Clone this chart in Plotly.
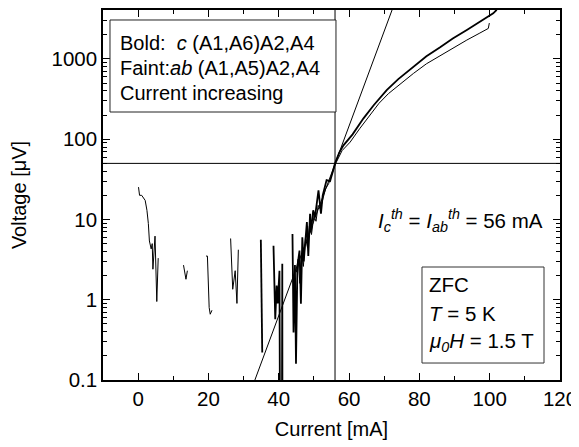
import plotly.graph_objects as go

# bold curve: c-axis (A1,A6)A2,A4
bold_current = [34.9, 35.3, None,
                38.5, 39.0, 39.4, 39.7, 40.2, 40.35, 40.9, 41.0, 41.05, None,
                43.9, 44.2, 44.6, 44.9, 45.3, 45.9, 46.3, 46.7, 47.1, 47.5, 48.0, 48.4,
                48.9, 49.1, 49.8, 50.3, 51.3, 52.0, 52.5, 53.6, 54.6, 55.4, 56.0,
                57.2, 58.4, 61.0, 64.1, 67.0, 70.7, 74.0, 78.3, 82.0, 85.9, 89.5,
                93.5, 97.0, 101.0, 102.0]
bold_voltage = [5.6, 0.22, None,
                4.7, 0.57, 1.5, 0.9, 2.3, 0.02, 0.02, 2.8, 0.02, None,
                6.6, 0.39, 2.7, 0.16, 2.6, 4.1, 0.89, 6.0, 3.0, 4.5, 9.3, 3.5,
                11.8, 6.9, 13, 10.7, 23, 11.8, 20, 31, 30, 40, 50,
                68, 84, 115, 182, 265, 410, 560, 800, 1080, 1400, 1800,
                2300, 2900, 3700, 4100]

# faint curve: ab-plane (A1,A5)A2,A4
faint_current = [0.1, 0.4, 1.0, 2.0, 2.5, 2.9, 3.2, 3.7, 4.0, 4.2, 4.8, 5.3, 5.7, None,
                 12.9, 13.6, 14.0, None,
                 19.3, 19.7, 20.2, 20.5, 21.0, None,
                 26.3, 26.9, 27.6, 28.1, 28.5, None,
                 45.0, 45.5, 46.0, 46.5, 47.0, 47.6, 48.2, 48.7, 49.3, 50.0, 50.6,
                 51.2, 51.8, 52.6, 53.3, 54.2, 55.2, 56.2, 58.0, 60.3, 63.0, 66.0,
                 68.5, 71.2, 74.5, 78.3, 82.0, 85.9, 89.5, 93.5, 97.0, 99.6, 99.9]
faint_voltage = [25.3, 20, 20, 17.3, 13, 8.9, 5.4, 4.3, 5.0, 2.4, 6.2, 0.95, 3.3, None,
                 2.7, 1.8, 2.3, None,
                 3.5, 3.5, 0.8, 0.66, 0.74, None,
                 5.8, 1.35, 2.3, 0.9, 4.2, None,
                 2.2, 3.2, 1.6, 3.8, 2.6, 6.0, 4.4, 8.2, 6.5, 11, 9.5,
                 15, 13.5, 19, 24, 28, 38, 50, 72, 92, 135, 200,
                 280, 370, 490, 660, 870, 1100, 1380, 1720, 2080, 2400, 2800]

# exponential fit line end points
fit_current = [32.0, 74.0]
fit_voltage = [0.072, 6600]

threshold_current = 56
threshold_voltage = 50

major_ticks = [0.1, 1, 10, 100, 1000]
major_text = ['0.1', '1', '10', '100', '1000']
minor_ticks = [d * k for d in [0.1, 1, 10, 100, 1000] for k in range(2, 10)]

legend_lines = ['Bold:  <i>c</i> (A1,A6)A2,A4',
                'Faint:<i>ab</i> (A1,A5)A2,A4',
                'Current increasing']
condition_lines = ['ZFC',
                   '<i>T</i> = 5 K',
                   '<i>\u03bc</i><sub><i>0</i></sub><i>H</i> = 1.5 T']

FONT = 'Liberation Sans, Arial, sans-serif'

fig = go.Figure()

fig.add_trace(go.Scatter(x=fit_current, y=fit_voltage, mode='lines',
                         line=dict(color='black', width=1), showlegend=False))
fig.add_trace(go.Scatter(x=faint_current, y=faint_voltage, mode='lines',
                         line=dict(color='black', width=1), connectgaps=False,
                         showlegend=False))
fig.add_trace(go.Scatter(x=bold_current, y=bold_voltage, mode='lines',
                         line=dict(color='black', width=1.8), connectgaps=False,
                         showlegend=False))

fig.add_vline(x=threshold_current, line=dict(color='black', width=1))
fig.add_hline(y=threshold_voltage, line=dict(color='black', width=1))

# legend box (top left)
fig.add_shape(type='rect', xref='paper', yref='paper', x0=0.0153, x1=0.5098,
              y0=0.7243, y1=0.9730, line=dict(color='#222', width=1),
              fillcolor='white', layer='above')
for i, txt in enumerate(legend_lines):
    fig.add_annotation(xref='paper', yref='paper', x=0.033, y=0.912 - i * 0.0676,
                       xanchor='left', yanchor='middle', text=txt, showarrow=False,
                       font=dict(size=20, color='black', family=FONT))

# threshold label
fig.add_annotation(
    xref='paper', yref='paper', x=0.968, y=0.43, xanchor='right', yanchor='middle',
    text='<i>I</i><sub><i>c</i></sub><sup><i>th</i></sup> = <i>I</i><sub><i>ab</i></sub><sup><i>th</i></sup> = 56 mA',
    showarrow=False, font=dict(size=20.5, color='black', family=FONT))

# conditions box (bottom right)
fig.add_shape(type='rect', xref='paper', yref='paper', x0=0.698, x1=0.965,
              y0=0.0459, y1=0.3054, line=dict(color='#333', width=1),
              fillcolor='white', layer='above')
for i, txt in enumerate(condition_lines):
    fig.add_annotation(xref='paper', yref='paper', x=0.709, y=0.258 - i * 0.077,
                       xanchor='left', yanchor='middle', text=txt, showarrow=False,
                       font=dict(size=20.5, color='black', family=FONT))

# page body adds an 8px offset, so the figure is 8px smaller and margins shifted
fig.update_layout(
    width=571, height=439,
    margin=dict(l=95, r=19, t=2, b=67),
    plot_bgcolor='white', paper_bgcolor='white',
    font=dict(family=FONT, size=20, color='black'),
    showlegend=False,
)

fig.update_xaxes(
    range=[-10, 120], tick0=0, dtick=20,
    ticks='inside', ticklen=7, tickwidth=1, tickcolor='black',
    tickfont=dict(size=20.5), ticklabeloverflow='allow',
    minor=dict(ticks='inside', ticklen=4, tick0=0, dtick=10, tickcolor='black'),
    showline=True, linecolor='black', linewidth=1.5, mirror='ticks',
    showgrid=False, zeroline=False, automargin=False,
    title=dict(text='Current [mA]', standoff=13, font=dict(size=20)),
)

fig.update_yaxes(
    type='log', range=[-1, 3.61],
    tickmode='array', tickvals=major_ticks, ticktext=major_text,
    ticks='inside', ticklen=7, tickwidth=1, tickcolor='black',
    tickfont=dict(size=20.5),
    minor=dict(ticks='inside', ticklen=4, tickmode='array', tickvals=minor_ticks,
               tickcolor='black'),
    showline=True, linecolor='black', linewidth=1.5, mirror='ticks',
    showgrid=False, zeroline=False, automargin=False,
    title=dict(text='Voltage [\u03bcV]', standoff=22, font=dict(size=20)),
)

fig.write_html('out.html')
